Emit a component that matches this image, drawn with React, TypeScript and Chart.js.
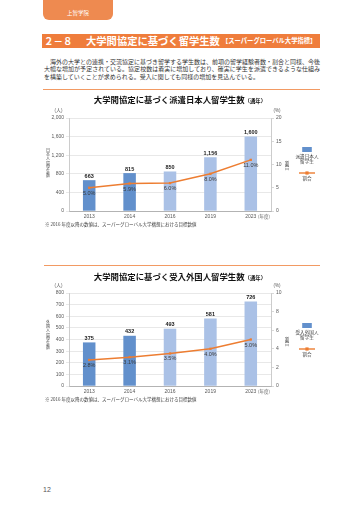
import React, { useEffect, useRef } from "react";
import { Chart, registerables } from "chart.js";
Chart.register(...registerables);

// ---- data ----
const years = ["2013", "2014", "2016", "2019", "2023"];
const isTarget = [false, false, true, true, true];
const dispatchCounts = [663, 815, 850, 1156, 1600];
const dispatchRatios = [5.0, 5.9, 6.0, 8.0, 11.0];
const inboundCounts = [375, 432, 493, 581, 726];
const inboundRatios = [2.8, 3.1, 3.5, 4.0, 5.0];
const dispatchLeftRange = [0, 2000, 400];
const dispatchRightRange = [0, 20, 5];
const inboundLeftRange = [0, 800, 100];
const inboundRightRange = [0, 10, 2];

const JP = '"Noto Sans CJK JP", "Noto Sans", sans-serif';
const NUM = '"Liberation Sans", Arial, sans-serif';
const ORANGE = "#ED7D31";
const DARK_BAR = "#6290CC";
const LIGHT_BAR = "#AAC1E6";

type Spec = {
  title: string;
  sub: string;
  counts: number[];
  ratios: number[];
  left: number[];
  right: number[];
  leftTitle: string;
  legend: string[];
  padTop: number;
  xHeight: number;
  titleY: number;
  unitY: number;
  leftTitleY: number;
};

const decorPlugin = {
  id: "decor",
  afterDatasetsDraw(chart: any) {
    const ctx = chart.ctx;
    const bars = chart.getDatasetMeta(0);
    const line = chart.getDatasetMeta(1);
    const counts = chart.data.datasets[0].data;
    const ratios = chart.data.datasets[1].data;
    ctx.save();
    ctx.textAlign = "center";
    ctx.fillStyle = "#222";
    ctx.textBaseline = "bottom";
    ctx.font = "bold 5.5px " + NUM;
    bars.data.forEach((el: any, i: number) => {
      ctx.fillText(Number(counts[i]).toLocaleString("en-US"), el.x, el.y - 1.2);
    });
    ctx.textBaseline = "middle";
    ctx.font = "5.5px " + NUM;
    ctx.fillStyle = "#3a3a3a";
    line.data.forEach((el: any, i: number) => {
      ctx.fillText(Number(ratios[i]).toFixed(1) + "%", el.x, el.y + 5.5);
    });
    ctx.restore();
  },
  afterDraw(chart: any, _args: any, o: any) {
    const ctx = chart.ctx;
    const ca = chart.chartArea;
    ctx.save();
    // title
    ctx.textBaseline = "middle";
    ctx.fillStyle = "#111";
    const mainFont = "bold 8.4px " + JP;
    const subFont = "bold 5.4px " + JP;
    ctx.font = mainFont;
    const w1 = ctx.measureText(o.title).width;
    ctx.font = subFont;
    const w2 = ctx.measureText(o.sub).width;
    const cx = 150;
    const x0 = cx - (w1 + w2) / 2;
    ctx.textAlign = "left";
    ctx.font = mainFont;
    ctx.fillText(o.title, x0, o.titleY);
    ctx.font = subFont;
    ctx.fillText(o.sub, x0 + w1, o.titleY + 0.8);
    // units
    ctx.font = "4.5px " + NUM;
    ctx.fillStyle = "#595959";
    ctx.textAlign = "center";
    ctx.fillText("(人)", 28.5, o.unitY);
    ctx.fillText("(%)", ca.right + 6, o.unitY);
    // (年度)
    ctx.font = "4.5px " + JP;
    ctx.fillText("(年度)", ca.right - 7, ca.bottom + 5);
    // left axis title, stacked
    ctx.font = "4px " + JP;
    ctx.fillStyle = "#404040";
    const chars = Array.from(o.leftTitle as string);
    const step = 4.3;
    const startY = o.leftTitleY - ((chars.length - 1) * step) / 2;
    chars.forEach((c, i) => ctx.fillText(c, 18, startY + i * step));
    // right axis title
    ctx.font = "4.5px " + JP;
    ctx.fillText("割", 257, 71);
    ctx.fillText("合", 257, 75.5);
    // legend
    const lx = 277;
    ctx.fillStyle = DARK_BAR;
    ctx.fillRect(lx - 4.8, 55, 9.6, 5);
    ctx.fillStyle = "#404040";
    ctx.font = "4.6px " + JP;
    ctx.fillText(o.legend[0], lx, 64);
    ctx.fillText(o.legend[1], lx, 69.3);
    ctx.strokeStyle = ORANGE;
    ctx.lineWidth = 1.4;
    ctx.beginPath();
    ctx.moveTo(lx - 8, 81);
    ctx.lineTo(lx + 8, 81);
    ctx.stroke();
    ctx.fillStyle = ORANGE;
    ctx.fillRect(lx - 1.6, 79.4, 3.2, 3.2);
    ctx.fillStyle = "#404040";
    ctx.fillText("割合", lx, 86.5);
    ctx.restore();
  },
};

function buildConfig(s: Spec): any {
  const tickFont = { family: NUM, size: 5 };
  return {
    type: "bar",
    data: {
      labels: years,
      datasets: [
        {
          type: "bar",
          data: s.counts,
          backgroundColor: isTarget.map((t) => (t ? LIGHT_BAR : DARK_BAR)),
          barPercentage: 0.31,
          categoryPercentage: 1,
          yAxisID: "y",
          order: 1,
        },
        {
          type: "line",
          data: s.ratios,
          borderColor: ORANGE,
          backgroundColor: ORANGE,
          borderWidth: 1.5,
          pointStyle: "rect",
          pointRadius: 1.6,
          pointBorderWidth: 0,
          yAxisID: "y1",
          order: 0,
        },
      ],
    },
    options: {
      responsive: false,
      animation: false,
      devicePixelRatio: 1,
      layout: { padding: { top: s.padTop, left: 0, right: 34, bottom: 0 } },
      plugins: {
        legend: { display: false },
        tooltip: { enabled: false },
        title: { display: false },
        decor: {
          title: s.title,
          sub: s.sub,
          legend: s.legend,
          leftTitle: s.leftTitle,
          titleY: s.titleY,
          unitY: s.unitY,
          leftTitleY: s.leftTitleY,
        },
      },
      scales: {
        x: {
          grid: { display: false, drawTicks: false },
          border: { display: true, color: "#a6a6a6", width: 0.8 },
          ticks: { font: tickFont, color: "#595959", padding: 2.5, maxRotation: 0 },
          afterFit: (sc: any) => {
            sc.height = s.xHeight;
          },
        },
        y: {
          position: "left",
          min: s.left[0],
          max: s.left[1],
          grid: { color: "#d9d9d9", lineWidth: 0.6, tickLength: 3, drawTicks: true },
          border: { display: true, color: "#bfbfbf", width: 0.8 },
          ticks: {
            stepSize: s.left[2],
            font: tickFont,
            color: "#595959",
            padding: 2,
            callback: (v: any) => Number(v).toLocaleString("en-US"),
          },
          afterFit: (sc: any) => {
            sc.width = 39;
          },
        },
        y1: {
          position: "right",
          min: s.right[0],
          max: s.right[1],
          grid: { drawOnChartArea: false, color: "#bfbfbf", lineWidth: 0.6, tickLength: 3 },
          border: { display: true, color: "#bfbfbf", width: 0.8 },
          ticks: { stepSize: s.right[2], font: tickFont, color: "#595959", padding: 2 },
          afterFit: (sc: any) => {
            sc.width = 35;
          },
        },
      },
    },
    plugins: [decorPlugin],
  };
}

function ChartBox({ spec, top }: { spec: Spec; top: number }) {
  const ref = useRef<HTMLCanvasElement>(null);
  useEffect(() => {
    if (!ref.current) return;
    const c = new Chart(ref.current, buildConfig(spec));
    return () => c.destroy();
  }, []);
  return (
    <canvas
      ref={ref}
      width={310}
      height={130}
      style={{ position: "absolute", left: 30, top, width: 310, height: 130 }}
    />
  );
}

const spec1: Spec = {
  title: "大学間協定に基づく派遣日本人留学生数",
  sub: "（通年）",
  counts: dispatchCounts,
  ratios: dispatchRatios,
  left: dispatchLeftRange,
  right: dispatchRightRange,
  leftTitle: "日本人留学生数",
  legend: ["派遣日本人", "留学生"],
  padTop: 26,
  xHeight: 11,
  titleY: 8,
  unitY: 18.7,
  leftTitleY: 71,
};

const spec2: Spec = {
  title: "大学間協定に基づく受入外国人留学生数",
  sub: "（通年）",
  counts: inboundCounts,
  ratios: inboundRatios,
  left: inboundLeftRange,
  right: inboundRightRange,
  leftTitle: "外国人留学生数",
  legend: ["受入外国人", "留学生"],
  padTop: 25,
  xHeight: 12,
  titleY: 9,
  unitY: 17.5,
  leftTitleY: 67,
};

const para = [
  "海外の大学との連携・交流協定に基づき留学する学生数は、前項の留学経験者数・割合と同様、今後",
  "大幅な増加が予定されている。協定校数は着実に増加しており、確実に学生を派遣できるような仕組み",
  "を構築していくことが求められる。受入に関しても同様の増加を見込んでいる。",
];
const note = "※ 2016 年度以降の数値は、スーパーグローバル大学構想における目標数値";

export default function App() {
  const abs = (o: React.CSSProperties): React.CSSProperties => ({ position: "absolute", ...o });
  return (
    <div style={abs({ left: 0, top: 0, width: 360, height: 509, background: "#fff", overflow: "hidden", fontFamily: JP })}>
      <div
        style={abs({
          left: 43,
          top: 0,
          width: 70,
          height: 20,
          background: "#EE8A50",
          borderRadius: "0 0 6px 6px",
          color: "#fff",
          fontSize: 5.5,
          lineHeight: "6px",
          textAlign: "center",
          paddingTop: 10,
          boxSizing: "border-box",
        })}
      >
        上智学院
      </div>
      <div style={abs({ left: 42, top: 33.5, width: 278, height: 14, background: "#EF7D3C" })} />
      <div style={abs({ left: 44, top: 33.5, height: 14, lineHeight: "14px", color: "#fff", fontWeight: 700, fontSize: 9.5 })}>２－８</div>
      <div style={abs({ left: 86, top: 33.5, height: 14, lineHeight: "14px", color: "#fff", fontWeight: 700, fontSize: 10.3, whiteSpace: "nowrap" })}>
        大学間協定に基づく留学生数
      </div>
      <div style={abs({ left: 222, top: 33.5, height: 14, lineHeight: "14.5px", color: "#fff", fontWeight: 700, fontSize: 6.3, whiteSpace: "nowrap" })}>
        【スーパーグローバル大学指標】
      </div>
      {para.map((t, i) => (
        <div
          key={i}
          style={abs({
            left: i === 0 ? 50 : 44,
            top: 57.5 + i * 7.8,
            width: i === 0 ? 270 : 276,
            fontSize: 6,
            lineHeight: "8px",
            color: "#333",
            whiteSpace: "nowrap",
            textAlign: i < 2 ? "justify" : "left",
            textAlignLast: i < 2 ? "justify" : "left",
          } as any)}
        >
          {t}
        </div>
      ))}
      <div style={abs({ left: 43, top: 88.5, width: 277, height: 1.5, background: "#F29A63" })} />
      <ChartBox spec={spec1} top={92} />
      <div style={abs({ left: 45, top: 221.5, fontSize: 4.5, lineHeight: "5px", color: "#404040", whiteSpace: "nowrap" })}>{note}</div>
      <div style={abs({ left: 44, top: 264.5, width: 276, height: 1.5, background: "#F29A63" })} />
      <ChartBox spec={spec2} top={268} />
      <div style={abs({ left: 45, top: 396.5, fontSize: 4.5, lineHeight: "5px", color: "#404040", whiteSpace: "nowrap" })}>{note}</div>
      <div style={abs({ left: 43, top: 486, fontSize: 7, lineHeight: "8px", color: "#555", fontFamily: NUM })}>12</div>
    </div>
  );
}
